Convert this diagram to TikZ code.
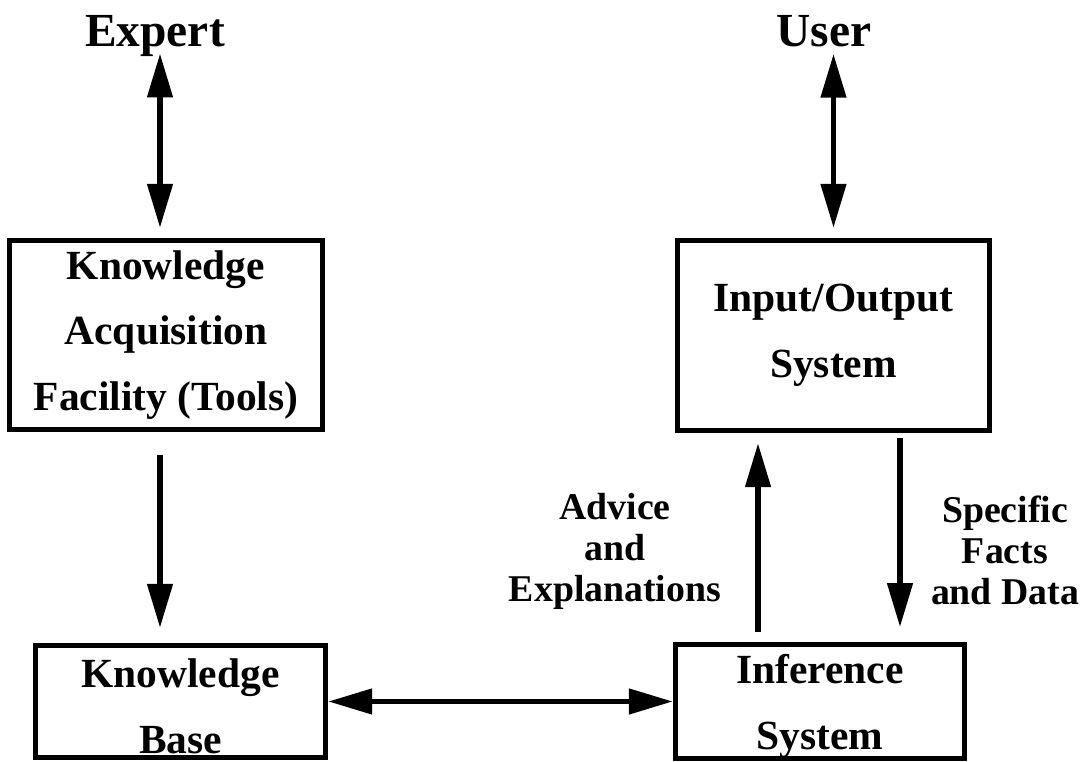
\documentclass[tikz,border=0pt]{standalone}
\usepackage{fontspec}
\setmainfont{Liberation Serif}
\usetikzlibrary{arrows.meta,positioning}
\tikzset{
	blk/.style={draw, line width=3pt, inner sep=0pt, align=center, font=\fontsize{23.6}{37.5}\selectfont\bfseries},
	lbl/.style={inner sep=0pt, align=center, font=\fontsize{21.5}{23.3}\selectfont\bfseries},
	who/.style={inner sep=0pt, font=\fontsize{27}{30}\selectfont\bfseries},
	arr/.style={line width=3.2pt, -{Triangle[length=25pt,width=14pt]}},
	dbl/.style={line width=3.2pt, {Triangle[length=25pt,width=14pt]}-{Triangle[length=25pt,width=14pt]}}
}

\begin{document}
\begin{tikzpicture}
			%%%%% START %%%%%
			\useasboundingbox (0,0) rectangle (21.82,15.24);
			
			\node[who, anchor=base] (expert) at (3.1, 14.3) {Expert};
			\node[who, anchor=base] (user) at (16.48, 14.3) {User};
			
			\node[blk, minimum width=6.26cm, minimum height=3.78cm] (kaf) at (3.32, 8.54) {Knowledge\\Acquisition\\Facility (Tools)};
			\node[blk, minimum width=6.24cm, minimum height=3.8cm] (io) at (16.67, 8.53) {Input/Output\\System};
			
			\node[blk, minimum width=5.8cm, minimum height=2.24cm] (kb) at (3.61, 1.21) {\rule{0pt}{22pt}Knowledge\\Base};
			\node[blk, minimum width=5.78cm, minimum height=2.24cm] (inf) at (16.4, 1.21) {\rule{0pt}{22pt}Inference\\System};
			
			\node[lbl] (advice) at (12.3, 4.22) {Advice\\and\\Explanations};
			\node[lbl] (facts) at (20.1, 4.24) {Specific\\Facts\\and Data};
			
			\draw[dbl, shorten <=-0.08cm, shorten >=0.2cm] ([xshift=0.1cm]expert.south) -- ([xshift=0.1cm]expert.south |- kaf.north);
			\draw[dbl, shorten <=0.12cm, shorten >=0.2cm] (io.north |- user.south) -- (io.north);
			
			\draw[arr, shorten <=0.46cm, shorten >=0.3cm] ([xshift=-0.12cm]kaf.south) -- ([xshift=-0.12cm]kaf.south |- kb.north);
			\draw[dbl] (kb.east) -- (inf.west);
			
			\draw[arr, shorten <=0.2cm, shorten >=0.2cm] ([xshift=-1.24cm]inf.north) -- ([xshift=-1.24cm]inf.north |- io.south);
			\draw[arr, shorten <=0.1cm, shorten >=0.3cm] ([xshift=1.33cm]io.south) -- ([xshift=1.33cm]io.south |- inf.north);
			
			%%%%% END %%%%%
\end{tikzpicture}
\end{document}
